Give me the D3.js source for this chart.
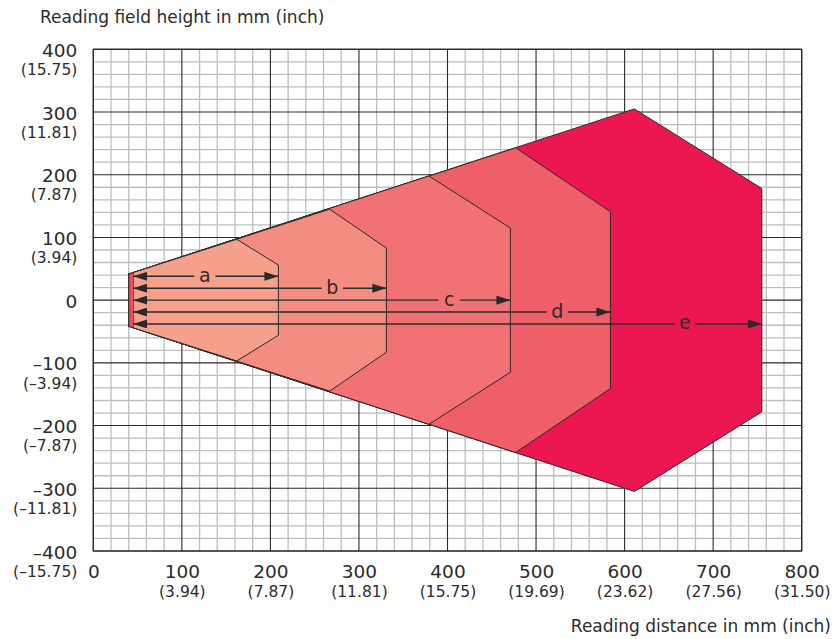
<!DOCTYPE html>
<html>
<head>
<meta charset="utf-8">
<script src="https://cdn.jsdelivr.net/npm/d3@7"></script>
<style>
  body { margin: 0; background: #fff; }
  text { font-family: "DejaVu Sans", sans-serif; fill: #2b2b2b; }
</style>
</head>
<body>
<div id="chart"></div>
<script>

// tick labels
var xTicks = [0, 100, 200, 300, 400, 500, 600, 700, 800];
var xTickInch = ["", "(3.94)", "(7.87)", "(11.81)", "(15.75)", "(19.69)", "(23.62)", "(27.56)", "(31.50)"];
var yTicks = [400, 300, 200, 100, 0, -100, -200, -300, -400];
var yTickText = ["400", "300", "200", "100", "0", "\u2013100", "\u2013200", "\u2013300", "\u2013400"];
var yTickInch = ["(15.75)", "(11.81)", "(7.87)", "(3.94)", "", "(\u20133.94)", "(\u20137.87)", "(\u201311.81)", "(\u201315.75)"];

// reading fields (mm), symmetric about 0
var zoneNames = ["a", "b", "c", "d", "e"];
var zoneColors = ["#f5a08b", "#f38d82", "#f17174", "#ef5f67", "#ec1651"];
var zoneStartX = [45, 45, 45, 45, 45];
var zoneStartH = [44, 44, 44, 44, 44];
var zoneTopX = [162, 267, 379, 477, 611];
var zoneTopH = [97, 145, 198, 243, 305];
var zoneRightX = [209, 331, 471, 584, 755];
var zoneRightH = [56, 83, 115, 141, 178];

// front window strip
var stripX = [40, 45];
var stripH = [42, 44];
var stripColor = "#e8505a";

// dimension arrows
var arrowY = [38, 19, 0, -19, -38];
var arrowStart = [45, 45, 45, 45, 45];
var labelX = [126, 270, 402, 524, 668];

var xTitle = "Reading distance in mm (inch)";
var yTitle = "Reading field height in mm (inch)";

// chart setup
var width = 835, height = 639;
var margin = { top: 49.3, right: 33.3, bottom: 88, left: 93.3 };
var graphWidth = width - margin.left - margin.right;
var graphHeight = height - margin.top - margin.bottom;

var svg = d3.select("#chart")
  .append("svg")
  .attr("width", width)
  .attr("height", height);

var graph = svg.append("g")
  .attr("transform", `translate(${margin.left},${margin.top})`);

var x = d3.scaleLinear().domain([0, 800]).range([0, graphWidth]);
var y = d3.scaleLinear().domain([-400, 400]).range([graphHeight, 0]);

// grid - minor first, then major
var minorX = d3.range(0, 801, 20).filter(d => d % 100 != 0);
var minorY = d3.range(-400, 401, 20).filter(d => d % 100 != 0);

graph.append("g").selectAll("line").data(minorX).enter().append("line")
  .attr("x1", d => x(d)).attr("x2", d => x(d))
  .attr("y1", 0).attr("y2", graphHeight)
  .attr("stroke", "#bdbdbd").attr("stroke-width", 1.3);

graph.append("g").selectAll("line").data(minorY).enter().append("line")
  .attr("y1", d => y(d)).attr("y2", d => y(d))
  .attr("x1", 0).attr("x2", graphWidth)
  .attr("stroke", "#bdbdbd").attr("stroke-width", 1.3);

graph.append("g").selectAll("line").data(xTicks).enter().append("line")
  .attr("x1", d => x(d)).attr("x2", d => x(d))
  .attr("y1", 0).attr("y2", graphHeight)
  .attr("stroke", "#2a2a2a").attr("stroke-width", 1.1);

graph.append("g").selectAll("line").data(yTicks).enter().append("line")
  .attr("y1", d => y(d)).attr("y2", d => y(d))
  .attr("x1", 0).attr("x2", graphWidth)
  .attr("stroke", "#2a2a2a").attr("stroke-width", 1.1);

graph.append("rect")
  .attr("width", graphWidth).attr("height", graphHeight)
  .attr("fill", "none").attr("stroke", "#2a2a2a").attr("stroke-width", 1.2);

// zones, biggest first
var zones = zoneNames.map((n, i) => ({
  name: n,
  color: zoneColors[i],
  pts: [
    [zoneStartX[i], zoneStartH[i]],
    [zoneTopX[i], zoneTopH[i]],
    [zoneRightX[i], zoneRightH[i]],
    [zoneRightX[i], -zoneRightH[i]],
    [zoneTopX[i], -zoneTopH[i]],
    [zoneStartX[i], -zoneStartH[i]]
  ]
})).reverse();

var line = d3.line().x(d => x(d[0])).y(d => y(d[1]));

graph.append("g").selectAll("path").data(zones).enter().append("path")
  .attr("d", d => line(d.pts) + "Z")
  .attr("fill", d => d.color)
  .attr("stroke", "#2a2a2a")
  .attr("stroke-width", 1)
  .attr("stroke-linejoin", "miter");

graph.append("path")
  .attr("d", line([[stripX[0], stripH[0]], [stripX[1], stripH[1]], [stripX[1], -stripH[1]], [stripX[0], -stripH[0]]]) + "Z")
  .attr("fill", stripColor);

graph.append("path")
  .attr("d", line([[stripX[1], stripH[1]], [stripX[0], stripH[0]], [stripX[0], -stripH[0]], [stripX[1], -stripH[1]]]))
  .attr("fill", "none")
  .attr("stroke", "#2a2a2a")
  .attr("stroke-width", 1.2);

// arrow markers
var defs = svg.append("defs");
defs.append("marker")
  .attr("id", "arrow")
  .attr("markerUnits", "userSpaceOnUse")
  .attr("viewBox", "0 0 14 9")
  .attr("refX", 14).attr("refY", 4.5)
  .attr("markerWidth", 14).attr("markerHeight", 9)
  .attr("orient", "auto-start-reverse")
  .append("path")
  .attr("d", "M0,0 L14,4.5 L0,9 Z")
  .attr("fill", "#2a2a2a");

var gap = 12;
var arrows = graph.append("g");
zoneNames.forEach(function(n, i) {
  arrows.append("line")
    .attr("x1", x(arrowStart[i])).attr("x2", x(labelX[i] - gap))
    .attr("y1", y(arrowY[i])).attr("y2", y(arrowY[i]))
    .attr("stroke", "#2a2a2a").attr("stroke-width", 1.4)
    .attr("marker-start", "url(#arrow)");
  arrows.append("line")
    .attr("x1", x(labelX[i] + gap)).attr("x2", x(zoneRightX[i]))
    .attr("y1", y(arrowY[i])).attr("y2", y(arrowY[i]))
    .attr("stroke", "#2a2a2a").attr("stroke-width", 1.4)
    .attr("marker-end", "url(#arrow)");
  arrows.append("text")
    .attr("x", x(labelX[i]))
    .attr("y", y(arrowY[i]) + 5.5)
    .attr("text-anchor", "middle")
    .style("font-size", "19px")
    .text(n);
});

// axes
var xAxisGroup = graph.append("g").attr("transform", `translate(0,${graphHeight})`);
var yAxisGroup = graph.append("g");

var xAxis = d3.axisBottom(x).tickValues(xTicks).tickSize(0).tickFormat(d => d);
var yAxis = d3.axisLeft(y).tickValues(yTicks).tickSize(0).tickFormat((d, i) => yTickText[i]);

xAxisGroup.call(xAxis);
yAxisGroup.call(yAxis);
xAxisGroup.select(".domain").remove();
yAxisGroup.select(".domain").remove();

xAxisGroup.selectAll(".tick text")
  .attr("y", 26.5).attr("dy", null)
  .attr("fill", "#2b2b2b")
  .attr("font-family", "DejaVu Sans")
  .style("font-size", "18.5px");

xAxisGroup.selectAll(".tick").each(function(d, i) {
  if (xTickInch[i]) {
    d3.select(this).append("text")
      .attr("y", 46)
      .attr("text-anchor", "middle")
      .attr("fill", "#2b2b2b")
      .style("font-size", "15.5px")
      .text(xTickInch[i]);
  }
});

yAxisGroup.selectAll(".tick text")
  .attr("x", -16).attr("dy", null).attr("y", 7)
  .attr("fill", "#2b2b2b")
  .attr("font-family", "DejaVu Sans")
  .style("font-size", "18.5px");

yAxisGroup.selectAll(".tick").each(function(d, i) {
  if (yTickInch[i]) {
    d3.select(this).append("text")
      .attr("x", -16).attr("y", 25.2)
      .attr("text-anchor", "end")
      .attr("fill", "#2b2b2b")
      .style("font-size", "15.5px")
      .text(yTickInch[i]);
  }
});

// titles
svg.append("text")
  .attr("x", 40).attr("y", 22.7)
  .style("font-size", "17px")
  .text(yTitle);

svg.append("text")
  .attr("x", 831).attr("y", 631.7)
  .attr("text-anchor", "end")
  .style("font-size", "17px")
  .text(xTitle);

</script>
</body>
</html>
